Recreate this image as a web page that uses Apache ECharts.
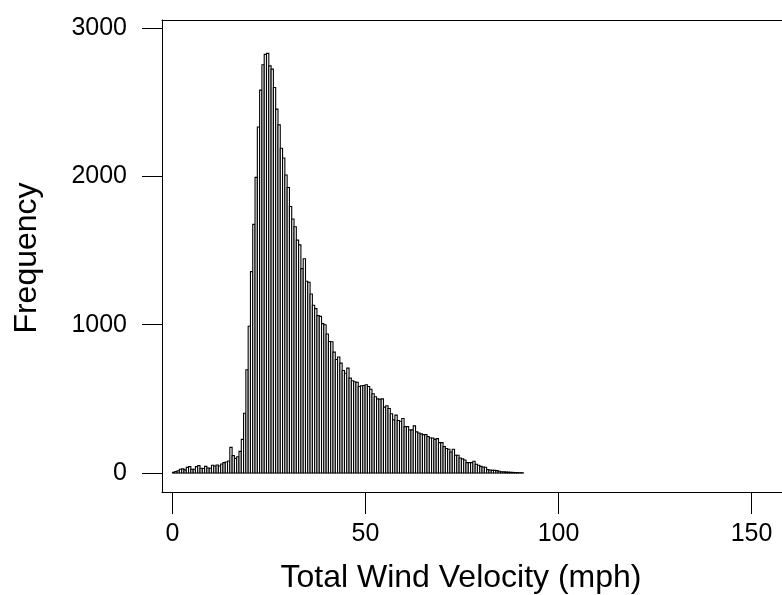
<!DOCTYPE html>
<html>
<head>
<meta charset="utf-8">
<script src="https://cdn.jsdelivr.net/npm/echarts@6/dist/echarts.min.js"></script>
<style>html,body{margin:0;padding:0;background:#fff;}#chart{width:782px;height:595px;}</style>
</head>
<body>
<div id="chart"></div>
<script>
// Histogram of total wind velocity (mph)
const binWidth = 0.594; // mph per bin
const frequency = [
  5, 10, 15, 25, 28, 21, 38, 43, 25, 25,
  43, 50, 32, 30, 45, 34, 32, 52, 47, 54,
  47, 61, 70, 74, 81, 173, 117, 99, 110, 146,
  227, 403, 696, 989, 1358, 1676, 1993, 2333, 2581, 2752,
  2822, 2829, 2745, 2723, 2599, 2453, 2347, 2189, 2124, 2009,
  1925, 1797, 1712, 1660, 1570, 1538, 1378, 1444, 1293, 1286,
  1207, 1131, 1108, 1061, 1056, 1007, 1000, 937, 887, 885,
  815, 765, 782, 741, 691, 673, 707, 640, 622, 615,
  612, 583, 588, 590, 595, 583, 565, 534, 514, 500,
  497, 500, 444, 453, 435, 400, 358, 390, 354, 349,
  367, 313, 313, 290, 291, 318, 277, 270, 264, 259,
  259, 245, 236, 236, 227, 232, 205, 205, 178, 165,
  160, 142, 160, 120, 120, 101, 95, 88, 70, 70,
  70, 79, 59, 52, 45, 41, 39, 23, 20, 18,
  18, 16, 12, 9, 9, 7, 6, 5, 4, 3,
  3, 2, 2
];
const xTicks = [0, 50, 100, 150];
const yTicks = [0, 1000, 2000, 3000];
const xTitle = 'Total Wind Velocity (mph)';
const yTitle = 'Frequency';

const histData = frequency.map((f, i) => [i * binWidth, (i + 1) * binWidth, f]);

const chart = echarts.init(document.getElementById('chart'), null, {renderer: 'canvas'});
const font = 'Liberation Sans, Arial, sans-serif';
const plain = v => String(v);
chart.setOption({
  animation: false,
  backgroundColor: '#fff',
  grid: {left: 162, top: 20, right: 0, height: 472, outerBoundsMode: 'none', containLabel: false, show: false},
  xAxis: [{
    type: 'value', min: -2.72, max: 157.9, position: 'bottom',
    axisLine: {show: true, onZero: false, lineStyle: {color: '#000', width: 1}},
    splitLine: {show: false},
    axisTick: {show: true, inside: false, length: 22, lineStyle: {color: '#000', width: 1}, customValues: xTicks},
    axisLabel: {show: true, margin: 30, color: '#000', fontFamily: font, fontSize: 25, formatter: plain, customValues: xTicks}
  }, {
    type: 'value', min: -2.72, max: 157.9, position: 'top',
    axisLine: {show: true, onZero: false, lineStyle: {color: '#000', width: 1}},
    splitLine: {show: false}, axisTick: {show: false}, axisLabel: {show: false}
  }],
  yAxis: {
    type: 'value', min: -128, max: 3054,
    axisLine: {show: true, onZero: false, lineStyle: {color: '#000', width: 1}},
    splitLine: {show: false},
    axisTick: {show: true, inside: false, length: 20, lineStyle: {color: '#000', width: 1}, customValues: yTicks},
    axisLabel: {show: true, margin: 35, color: '#000', fontFamily: font, fontSize: 25, formatter: plain, customValues: yTicks}
  },
  series: [{
    type: 'custom',
    data: histData,
    encode: {x: [0, 1], y: 2},
    clip: true,
    renderItem: function (params, api) {
      const p0 = api.coord([api.value(0), 0]);
      const p1 = api.coord([api.value(1), api.value(2)]);
      return {
        type: 'rect',
        shape: {x: p0[0], y: p1[1], width: p1[0] - p0[0], height: p0[1] - p1[1]},
        style: {fill: '#fff', stroke: '#000', lineWidth: 1.1}
      };
    }
  }],
  graphic: [
    {type: 'text', x: 461, y: 578, style: {text: xTitle, font: '32px ' + font, fill: '#000', textAlign: 'center', textVerticalAlign: 'middle'}},
    {type: 'text', x: 27, y: 258, rotation: Math.PI / 2, style: {text: yTitle, font: '32px ' + font, fill: '#000', textAlign: 'center', textVerticalAlign: 'middle'}}
  ]
});
</script>
</body>
</html>
